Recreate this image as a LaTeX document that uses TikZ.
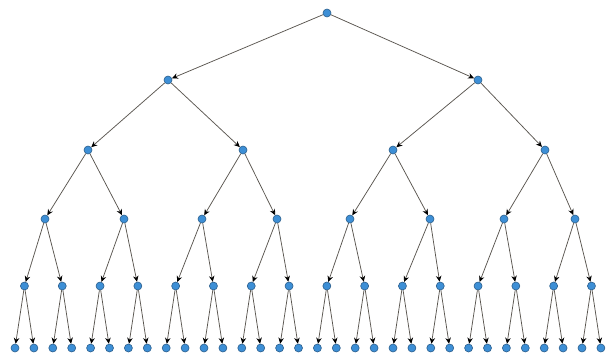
\documentclass[tikz,border=0pt]{standalone}
\usetikzlibrary{arrows.meta}
\definecolor{vblue}{HTML}{3D8FD6}
\definecolor{vrim}{HTML}{2B5E8C}
\definecolor{edge}{HTML}{5A5650}

\begin{document}
\begin{tikzpicture}[x=1pt, y=-1pt,
          v/.style={circle, draw=vrim, fill=vblue, line width=0.6pt, inner sep=0pt, minimum size=8pt},
          e/.style={draw=edge, line width=0.75pt, -{Stealth[black, length=6pt, width=5.5pt]}}]
        \useasboundingbox (0,0) rectangle (611,364);
        \node[v] (n0-0) at (327,13) {};
        \foreach \x [count=\i from 0] in {168,478} \node[v] (n1-\i) at (\x,80) {};
        \foreach \x [count=\i from 0] in {88,243,393,545} \node[v] (n2-\i) at (\x,150) {};
        \foreach \x [count=\i from 0] in {45,124,202,277,350,430,504,575} \node[v] (n3-\i) at (\x,219) {};
        \foreach \i in {0,...,15} \node[v] (n4-\i) at ({24.45+37.8*\i},286) {};
        \foreach \i in {0,...,31} \node[v] (n5-\i) at ({15+18.9*\i},348) {};
        % parent to child
        \foreach \l [evaluate=\l as \p using int(\l-1), evaluate=\l as \m using int(2^\l-1)] in {1,...,5}
          \foreach \c in {0,...,\m}{
            \pgfmathtruncatemacro\q{\c/2}
            \draw[e] (n\p-\q) -- (n\l-\c);}
      \end{tikzpicture}
\end{document}
